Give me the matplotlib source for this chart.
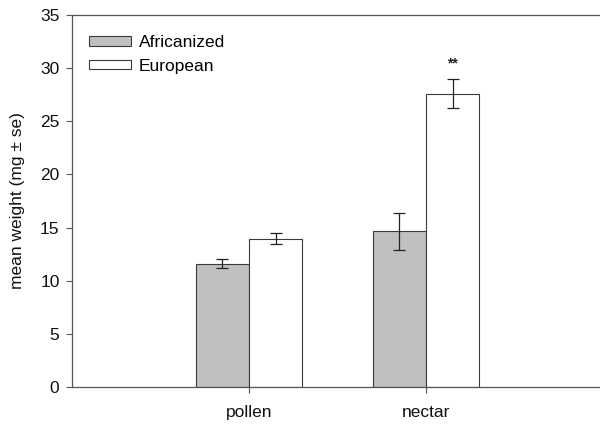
import matplotlib
matplotlib.use("Agg")
import matplotlib.pyplot as plt
import numpy as np

plt.rcParams['font.family'] = ['Liberation Sans', 'DejaVu Sans']

categories = ["pollen", "nectar"]
africanized = [11.6, 14.65]
africanized_se = [0.42, 1.75]
european = [13.95, 27.6]
european_se = [0.5, 1.37]
annotations = ["", "**"]

FS = 12.5
fig = plt.figure(figsize=(6.0, 4.24), dpi=100)
ax = fig.add_axes([72/600, 1-387/424, 531/600, (387-15)/424])

x = np.arange(1, len(categories)+1)
w = 0.3
edge = '#3a3a3a'
ax.bar(x - w/2, africanized, w, color='#c0c0c0', edgecolor=edge, linewidth=0.8, label='Africanized')
ax.bar(x + w/2, european, w, color='white', edgecolor=edge, linewidth=0.8, label='European')
ax.errorbar(x - w/2, africanized, yerr=africanized_se, fmt='none', ecolor='#222222', elinewidth=0.9, capsize=4.3, capthick=0.9)
ax.errorbar(x + w/2, european, yerr=european_se, fmt='none', ecolor='#222222', elinewidth=0.9, capsize=4.3, capthick=0.9)
for xi, v, s, a in zip(x + w/2, european, european_se, annotations):
    if a:
        ax.text(xi, v + s + 0.8, a, ha='center', va='bottom', fontsize=10, fontweight='bold', color='#222222')

ax.set_xlim(0, 3)
ax.set_ylim(0, 35)
ax.set_yticks(np.arange(0, 36, 5))
ax.set_xticks(x)
ax.set_xticklabels(categories)
ax.tick_params(axis='both', labelsize=FS, color='#555555', length=4, width=0.8, labelcolor='#111111')
ax.tick_params(axis='y', pad=5)
ax.tick_params(axis='x', pad=9)
ax.set_ylabel('mean weight (mg ± se)', fontsize=FS, color='#111111', labelpad=11)
for sp in ['left', 'top', 'bottom']:
    ax.spines[sp].set_color('#555555')
    ax.spines[sp].set_linewidth(0.9)
ax.spines['right'].set_visible(False)

em = FS * 100 / 72
ax.legend(loc='upper left', bbox_to_anchor=(89/600, 1-35/424), bbox_transform=fig.transFigure,
          frameon=False, fontsize=FS, handlelength=42/em, handleheight=8/em, labelspacing=(26-em)/em,
          handletextpad=8/em, borderpad=0, borderaxespad=0)

fig.savefig('out.png', dpi=100)
